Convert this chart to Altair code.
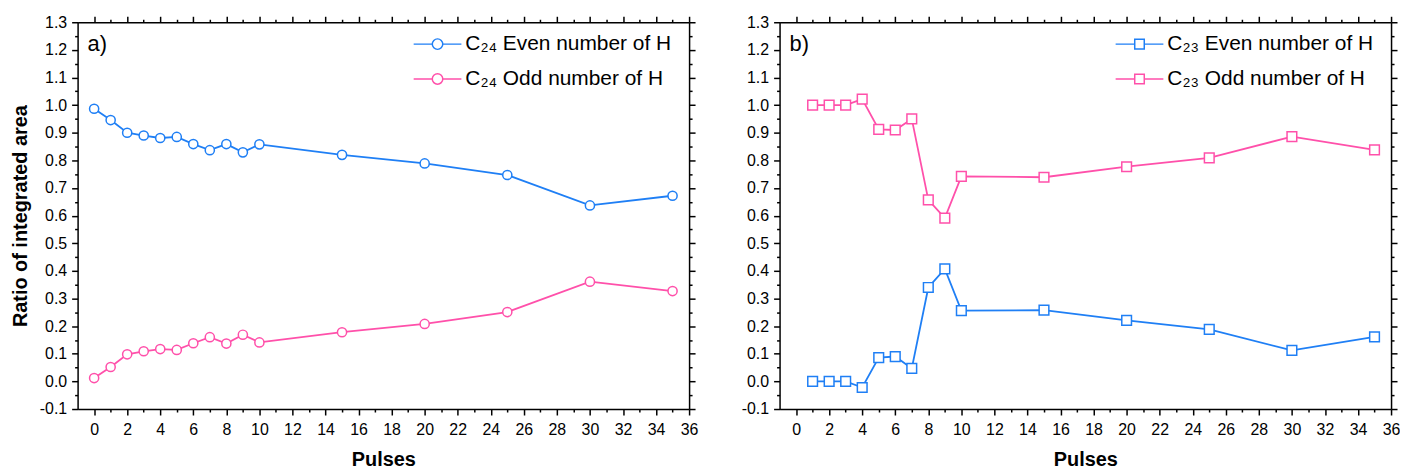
import altair as alt
import pandas as pd

# ---- data ----
pulses_a = [0, 1, 2, 3, 4, 5, 6, 7, 8, 9, 10, 15, 20, 25, 30, 35]
c24_even = [0.987, 0.946, 0.900, 0.890, 0.881, 0.885, 0.859, 0.837, 0.859, 0.829, 0.858,
            0.820, 0.789, 0.747, 0.637, 0.672]
c24_odd = [0.012, 0.052, 0.098, 0.109, 0.117, 0.114, 0.138, 0.160, 0.137, 0.169, 0.141,
           0.178, 0.208, 0.251, 0.361, 0.327]

pulses_b = [1, 2, 3, 4, 5, 6, 7, 8, 9, 10, 15, 20, 25, 30, 35]
c23_even = [0.000, 0.000, 0.000, -0.022, 0.086, 0.090, 0.047, 0.340, 0.407, 0.256,
            0.258, 0.221, 0.188, 0.112, 0.161]
c23_odd = [1.000, 1.000, 1.000, 1.022, 0.912, 0.910, 0.950, 0.657, 0.591, 0.742,
           0.739, 0.777, 0.809, 0.886, 0.838]

labels_a = ["C\u2082\u2084 Even number of H", "C\u2082\u2084 Odd number of H"]
labels_b = ["C\u2082\u2083 Even number of H", "C\u2082\u2083 Odd number of H"]
colors = ["#1F7FF5", "#FF50AA"]

x_ticks = list(range(0, 37))
y_ticks = [round(-0.1 + 0.05 * i, 2) for i in range(29)]

FONT = "Liberation Sans"
MAJOR_Y = "round(datum.value*20) % 2 == 0"
MAJOR_X = "datum.value % 2 == 0"

CIRCLE_PATH = ("M-1,0L-0.22,0M0.22,0L1,0M0.22,0A0.22,0.22,0,1,1,-0.22,0"
               "A0.22,0.22,0,1,1,0.22,0Z")
SQUARE_PATH = ("M-1,0L-0.2,0M0.2,0L1,0M-0.2,-0.2L0.2,-0.2L0.2,0.2L-0.2,0.2Z")


def y_axis(orient, title=None):
    kw = dict(
        orient=orient,
        values=y_ticks,
        tickSize={"condition": {"test": MAJOR_Y, "value": 6}, "value": 3},
        labelOverlap=False,
        labelFlush=False,
        labelBound=False,
        grid=False,
    )
    if orient == "left":
        kw.update(
            labels=True,
            labelExpr=f"{MAJOR_Y} ? replace(format(datum.value, '.1f'), '\u2212', '-') : ''",
            labelPadding=5,
            title=title,
            titlePadding=9,
        )
    else:
        kw.update(labels=False, title=None)
    return alt.Axis(**kw)


def x_axis(orient):
    kw = dict(
        orient=orient,
        values=x_ticks,
        tickSize={"condition": {"test": MAJOR_X, "value": 6}, "value": 3},
        labelOverlap=False,
        labelFlush=False,
        labelBound=False,
        grid=False,
    )
    if orient == "bottom":
        kw.update(
            labels=True,
            labelExpr=f"{MAJOR_X} ? datum.label : ''",
            labelPadding=7,
            title="Pulses",
            titlePadding=12,
        )
    else:
        kw.update(labels=False, title=None)
    return alt.Axis(**kw)


def panel(pulses, even, odd, labels, shape, size, sym_path, tag, ytitle):
    n = len(pulses)
    df = pd.DataFrame({
        "Pulses": pulses + pulses,
        "Ratio": even + odd,
        "Series": [labels[0]] * n + [labels[1]] * n,
    })
    xscale = alt.Scale(domain=[-1, 36], nice=False, zero=False)
    yscale = alt.Scale(domain=[-0.1, 1.3], nice=False, zero=False)
    legend = alt.Legend(
        title=None,
        orient="none",
        legendX=337,
        legendY=-3,
        padding=0,
        symbolType=sym_path,
        symbolSize=2304,
        symbolStrokeWidth=1.5,
        symbolFillColor="white",
        labelFont=FONT,
        labelFontSize=21,
        labelColor="black",
        labelLimit=0,
        labelOffset=3,
        rowPadding=-1,
    )
    stroke = alt.Stroke("Series:N", scale=alt.Scale(domain=labels, range=colors),
                        legend=legend)
    base = alt.Chart(df)
    line = base.mark_line(strokeWidth=1.8).encode(
        x=alt.X("Pulses:Q", scale=xscale, axis=x_axis("bottom")),
        y=alt.Y("Ratio:Q", scale=yscale, axis=y_axis("left", ytitle)),
        stroke=stroke,
    )
    pts = base.mark_point(shape=shape, filled=True, fill="white", size=size,
                          strokeWidth=1.5, opacity=1).encode(
        x=alt.X("Pulses:Q", scale=xscale, axis=x_axis("top")),
        y=alt.Y("Ratio:Q", scale=yscale, axis=y_axis("right")),
        stroke=stroke,
    )
    tag_text = alt.Chart(alt.Data(values=[{"t": tag}])).mark_text(
        align="left", baseline="alphabetic", font=FONT, fontSize=22, color="black"
    ).encode(text="t:N", x=alt.value(10), y=alt.value(29))
    return alt.layer(line, pts, tag_text).resolve_axis(
        x="independent", y="independent"
    ).properties(width=615, height=389)


pa = panel(pulses_a, c24_even, c24_odd, labels_a, "circle", 85, CIRCLE_PATH, "a)",
           "Ratio of integrated area")
pb = panel(pulses_b, c23_even, c23_odd, labels_b, "square", 95, SQUARE_PATH, "b)", None)

chart = alt.hconcat(pa, pb, spacing=43).resolve_scale(stroke="independent").properties(
    padding={"left": 2, "top": 5, "right": 0, "bottom": 0},
    background="white",
).configure_axis(
    domainColor="black",
    domainWidth=1.5,
    tickColor="black",
    tickWidth=1.5,
    labelFont=FONT,
    labelFontSize=16,
    labelColor="black",
    titleFont=FONT,
    titleFontSize=20,
    titleFontWeight="bold",
    titleColor="black",
).configure_view(stroke=None)

chart.save("out.html", embed_options={"renderer": "svg", "actions": False})
